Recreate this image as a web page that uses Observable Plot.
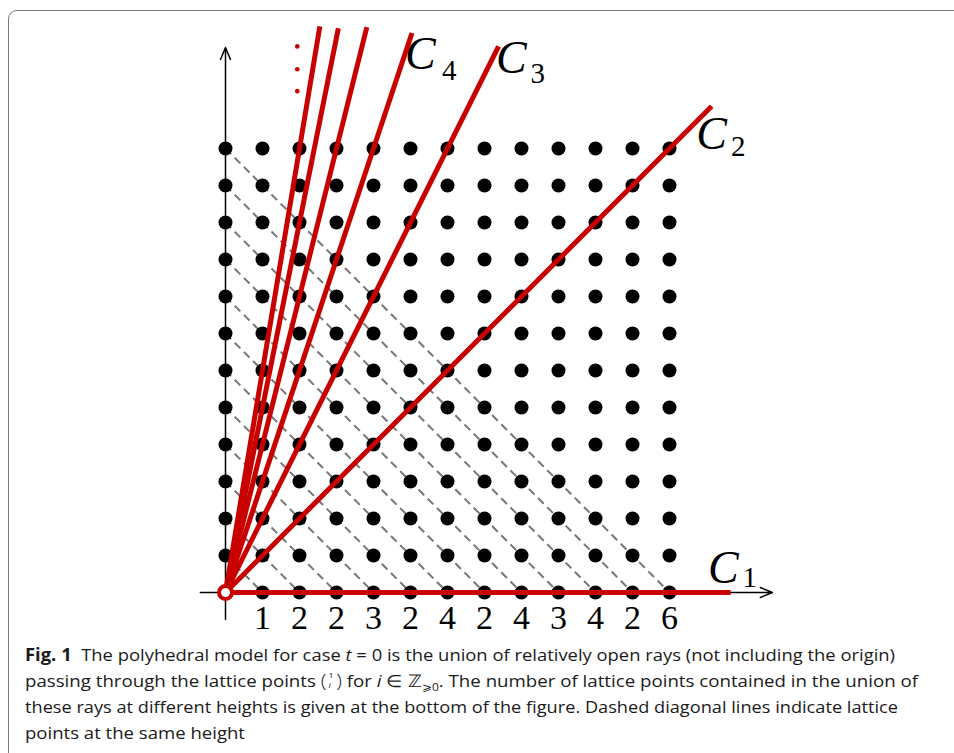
<!DOCTYPE html>
<html>
<head>
<meta charset="utf-8">
<script src="https://cdn.jsdelivr.net/npm/d3@7"></script>
<script src="https://cdn.jsdelivr.net/npm/@observablehq/plot@0.6"></script>
<style>
  html, body { margin: 0; padding: 0; background: #fff; }
  #wrap { position: relative; width: 954px; height: 753px; overflow: hidden; }
  #chart { position: absolute; left: 0; top: 0; }
  #frame { position: absolute; left: 8px; top: 10px; width: 1000px; height: 800px;
           border: 1.5px solid #7a7a7a; border-radius: 9px; pointer-events: none; box-sizing: border-box; }
  #caption { position: absolute; left: 25px; top: 642px; width: 920px;
             font-family: "Open Sans", sans-serif; font-size: 17px; line-height: 26px; color: #1a1a1a;
             white-space: nowrap; }
  #caption .ln { display: block; height: 26px; transform-origin: 0 50%; }
  .stack { position: relative; display: inline-block; width: 7px; height: 10px; font-size: 8px; line-height: 8px; margin: 0 1px; }
  .stack .top { position: absolute; left: 1px; top: -6px; }
  .stack .bot { position: absolute; left: 1px; top: 4px; }
  .paren { font-size: 19px; font-weight: 300; line-height: 0; }
  sub { font-size: 11px; line-height: 0; }
</style>
</head>
<body>
<div id="wrap">
  <div id="chart"></div>
  <div id="caption">
    <span class="ln" id="l1"><b>Fig. 1</b>&nbsp; The polyhedral model for case <i>t</i> = 0 is the union of relatively open rays (not including the origin)</span>
    <span class="ln" id="l2">passing through the lattice points <span class="paren">(</span><span class="stack"><span class="top">1</span><span class="bot"><i>i</i></span></span><span class="paren">)</span> for <i>i</i> ∈ ℤ<sub>⩾0</sub>. The number of lattice points contained in the union of</span>
    <span class="ln" id="l3">these rays at different heights is given at the bottom of the figure. Dashed diagonal lines indicate lattice</span>
    <span class="ln" id="l4">points at the same height</span>
  </div>
  <div id="frame"></div>
</div>
<script>
// ---- data ----
const gridValues = [0, 1, 2, 3, 4, 5, 6, 7, 8, 9, 10, 11, 12];
const heights = [1, 2, 3, 4, 5, 6, 7, 8, 9, 10, 11, 12];
const counts = [1, 2, 2, 3, 2, 4, 2, 4, 3, 4, 2, 6];
const raySlopes = [0, 1, 2, 3, 4, 5, 6];
const rayEndX = [13.65, 13.14, 7.38, 5.04, 3.82, 3.05, 2.55];
const rayEndY = [0, 13.14, 14.76, 15.12, 15.28, 15.25, 15.3];
const labelNames = ["C", "C", "C", "C"];
const labelSubs = ["1", "2", "3", "4"];
const labelX = [13.04, 12.72, 7.31, 4.85];
const labelY = [0.27, 12.0, 14.05, 14.16];
const labelSubX = [13.97, 13.66, 8.24, 5.85];
const labelSubY = [0.16, 11.81, 13.76, 13.84];
const ellipsisX = [1.94, 1.94, 1.94];
const ellipsisY = [14.76, 14.14, 13.55];
const xAxisRange = [-0.68, 14.78];
const yAxisRange = [-0.73, 14.73];

// ---- derived tables ----
const points = [];
for (const gx of gridValues) for (const gy of gridValues) points.push({x: gx, y: gy});
const diag = heights.map(h => ({x1: 0, y1: h, x2: h, y2: 0}));
const rays = raySlopes.map((s, i) => ({x1: 0, y1: 0, x2: rayEndX[i], y2: rayEndY[i]}));
const labels = labelNames.map((n, i) => ({x: labelX[i], y: labelY[i], t: n}));
const subs = labelSubs.map((s, i) => ({x: labelSubX[i], y: labelSubY[i], s}));
const countData = counts.map((c, i) => ({x: heights[i], c}));
const ell = ellipsisX.map((x, i) => ({x, y: ellipsisY[i]}));
const axes = [
  {x1: xAxisRange[0], y1: 0, x2: xAxisRange[1], y2: 0},
  {x1: 0, y1: yAxisRange[0], x2: 0, y2: yAxisRange[1]}
];

const RED = "#c80000";
const serif = "'Liberation Serif', 'DejaVu Serif', serif";

const chart = Plot.plot({
  width: 954,
  height: 636,
  style: {background: "transparent", overflow: "visible"},
  x: {domain: [0, 12], range: [225, 669], axis: null},
  y: {domain: [0, 12], range: [592, 148], axis: null},
  marks: [
    Plot.arrow(axes, {x1: "x1", y1: "y1", x2: "x2", y2: "y2", stroke: "black", strokeWidth: 1.5, headLength: 13, headAngle: 45}),
    Plot.link(diag, {x1: "x1", y1: "y1", x2: "x2", y2: "y2", stroke: "#777777", strokeWidth: 2, strokeDasharray: "8,5"}),
    Plot.dot(points, {x: "x", y: "y", r: 7, fill: "black", stroke: "none"}),
    Plot.link(rays, {x1: "x1", y1: "y1", x2: "x2", y2: "y2", stroke: RED, strokeWidth: 5, strokeLinecap: "butt"}),
    Plot.dot(ell, {x: "x", y: "y", r: 2.3, fill: RED, stroke: "none"}),
    Plot.dot([{x: 0, y: 0}], {x: "x", y: "y", r: 6.5, fill: "white", stroke: RED, strokeWidth: 4}),
    Plot.text(labels, {x: "x", y: "y", text: "t", fontSize: 46, fontStyle: "italic", fontFamily: serif, textAnchor: "start", lineAnchor: "bottom", fill: "black"}),
    Plot.text(subs, {x: "x", y: "y", text: "s", fontSize: 29, fontFamily: serif, textAnchor: "start", lineAnchor: "bottom", fill: "black"}),
    Plot.text(countData, {x: "x", y: 0, text: "c", fontSize: 34, fontFamily: serif, textAnchor: "middle", lineAnchor: "bottom", dy: 36, fill: "black"})
  ]
});
document.getElementById("chart").appendChild(chart);

// fit caption lines to the reference widths
const targets = {l1: 870, l2: 893, l3: 873, l4: 220};
for (const id in targets) {
  const el = document.getElementById(id);
  el.style.display = "inline-block";
  const w = el.getBoundingClientRect().width;
  el.style.transform = `scaleX(${targets[id] / w})`;
  el.style.display = "block";
  el.style.width = "max-content";
}
</script>
</body>
</html>
